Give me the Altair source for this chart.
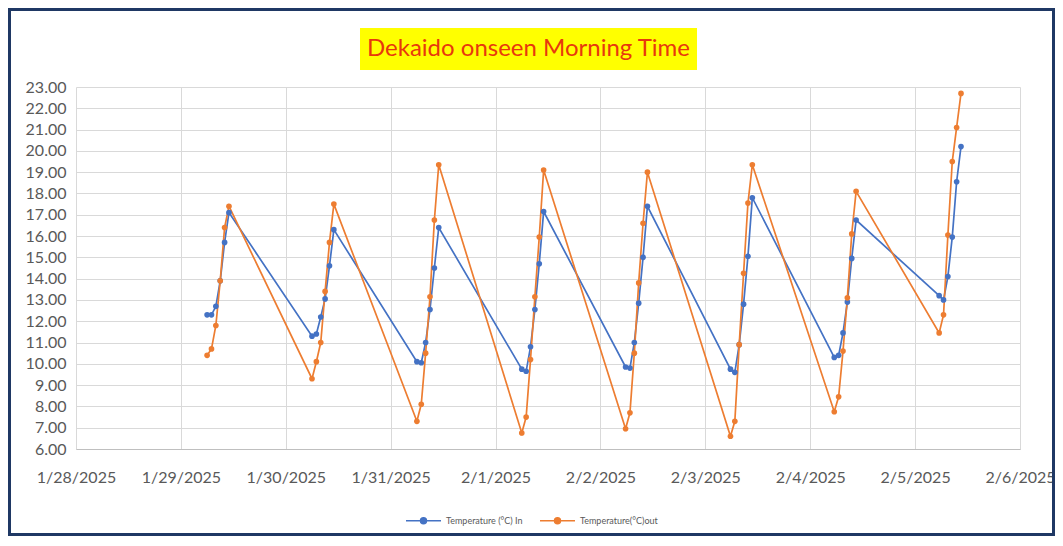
import altair as alt
import pandas as pd

# ---------------- data ----------------
dates = ["2025-01-29", "2025-01-30", "2025-01-31", "2025-02-01",
         "2025-02-02", "2025-02-03", "2025-02-04", "2025-02-05"]
start_times = ["06:00", "06:00", "06:00", "06:00", "05:45", "05:45", "05:30", "05:30"]
hour_steps = [0, 1, 2, 3, 4, 5]

temp_in = [
    [12.3, 12.3, 12.7, 13.9, 15.7, 17.1],
    [11.3, 11.4, 12.2, 13.05, 14.6, 16.3],
    [10.1, 10.05, 11.0, 12.55, 14.5, 16.4],
    [9.75, 9.65, 10.8, 12.55, 14.7, 17.15],
    [9.85, 9.8, 11.0, 12.85, 15.0, 17.4],
    [9.75, 9.6, 10.9, 12.8, 15.05, 17.8],
    [10.3, 10.4, 11.45, 12.9, 14.95, 16.75],
    [13.2, 13.0, 14.1, 15.95, 18.55, 20.2],
]
temp_out = [
    [10.4, 10.7, 11.8, 13.9, 16.4, 17.4],
    [9.3, 10.1, 11.0, 13.4, 15.7, 17.5],
    [7.3, 8.1, 10.5, 13.15, 16.75, 19.35],
    [6.75, 7.5, 10.2, 13.15, 15.95, 19.1],
    [6.95, 7.7, 10.5, 13.8, 16.6, 19.0],
    [6.6, 7.3, 10.9, 14.25, 17.55, 19.35],
    [7.75, 8.45, 10.6, 13.1, 16.1, 18.1],
    [11.45, 12.3, 16.05, 19.5, 21.1, 22.7],
]
series_names = ["Temperature (°C) In", "Temperature(°C)out"]
series_colors = ["#4472C4", "#ED7D31"]
x_tick_days = [(2025, 1, 28), (2025, 1, 29), (2025, 1, 30), (2025, 1, 31), (2025, 2, 1),
               (2025, 2, 2), (2025, 2, 3), (2025, 2, 4), (2025, 2, 5), (2025, 2, 6)]
y_ticks = list(range(6, 24))
title_text = ["Dekaido onseen Morning Time"]

# ---------------- table ----------------
rows = []
for d, st, vin, vout in zip(dates, start_times, temp_in, temp_out):
    t0 = pd.Timestamp(f"{d} {st}")
    for k, a, b in zip(hour_steps, vin, vout):
        t = (t0 + pd.Timedelta(hours=k)).strftime("%Y-%m-%dT%H:%M:%S")
        rows.append({"time": t, "temp": a, "series": series_names[0]})
        rows.append({"time": t, "temp": b, "series": series_names[1]})
df = pd.DataFrame(rows)

tick_values = [alt.DateTime(year=y, month=m, date=dd) for (y, m, dd) in x_tick_days]
FONT = "Lato"
legend_path = "M-1,0H1M-0.17,0A0.17,0.17,0,1,1,0.17,0A0.17,0.17,0,1,1,-0.17,0Z"

def make_legend():
    return alt.Legend(title=None, orient="none", legendX=329, legendY=415,
                      direction="horizontal",
                      symbolType=legend_path, symbolSize=1225, symbolStrokeWidth=1.5,
                      labelFontSize=9, labelFont=FONT, labelColor="#595959",
                      columnPadding=14)

x_enc = alt.X("time:T",
              scale=alt.Scale(domain=[tick_values[0], tick_values[-1]]),
              axis=alt.Axis(values=tick_values, format="%-m/%-d/%Y", title=None,
                            labelFontSize=16, labelFont=FONT, labelColor="#595959",
                            labelPadding=20, ticks=False, grid=True, gridColor="#D9D9D9",
                            domainColor="#BFBFBF", labelAngle=0, labelOverlap=False,
                            labelFlush=False))
y_enc = alt.Y("temp:Q",
              scale=alt.Scale(domain=[6, 23], nice=False, zero=False),
              axis=alt.Axis(values=y_ticks, format=".2f", title=None,
                            labelFontSize=16, labelFont=FONT, labelColor="#595959",
                            labelPadding=10, ticks=False, domain=False,
                            grid=True, gridColor="#D9D9D9", labelOverlap=False))

scale_c = alt.Scale(domain=series_names, range=series_colors)

lines = alt.Chart(df).mark_line(strokeWidth=1.7).encode(
    x=x_enc, y=y_enc,
    stroke=alt.Stroke("series:N", scale=scale_c, legend=make_legend()),
)
points = alt.Chart(df).mark_point(filled=True, size=32, opacity=1).encode(
    x=x_enc, y=y_enc,
    fill=alt.Fill("series:N", scale=scale_c, legend=make_legend()),
)

deco = pd.DataFrame({"title": title_text})
frame = alt.Chart(deco).mark_rect(fill="white", fillOpacity=0, stroke="#1F3864",
                                  strokeWidth=3).encode(
    x=alt.value(-66.5), x2=alt.value(977.5), y=alt.value(-77.5), y2=alt.value(447.5))
title_box = alt.Chart(deco).mark_rect(fill="#FFFF00").encode(
    x=alt.value(284), x2=alt.value(621), y=alt.value(-59), y2=alt.value(-17))
title_txt = alt.Chart(deco).mark_text(font=FONT, fontSize=24, color="#E8380D",
                                      align="center", baseline="middle").encode(
    x=alt.value(452.5), y=alt.value(-38), text="title:N")

chart = alt.layer(frame, lines, points, title_box, title_txt).properties(
    width=944, height=362,
    autosize=alt.AutoSizeParams(type="none"),
    padding={"left": 68, "top": 79, "right": 35, "bottom": 87},
    background="white",
).configure_view(stroke=None)

chart.save("out.html", embed_options={"renderer": "svg", "actions": False})
